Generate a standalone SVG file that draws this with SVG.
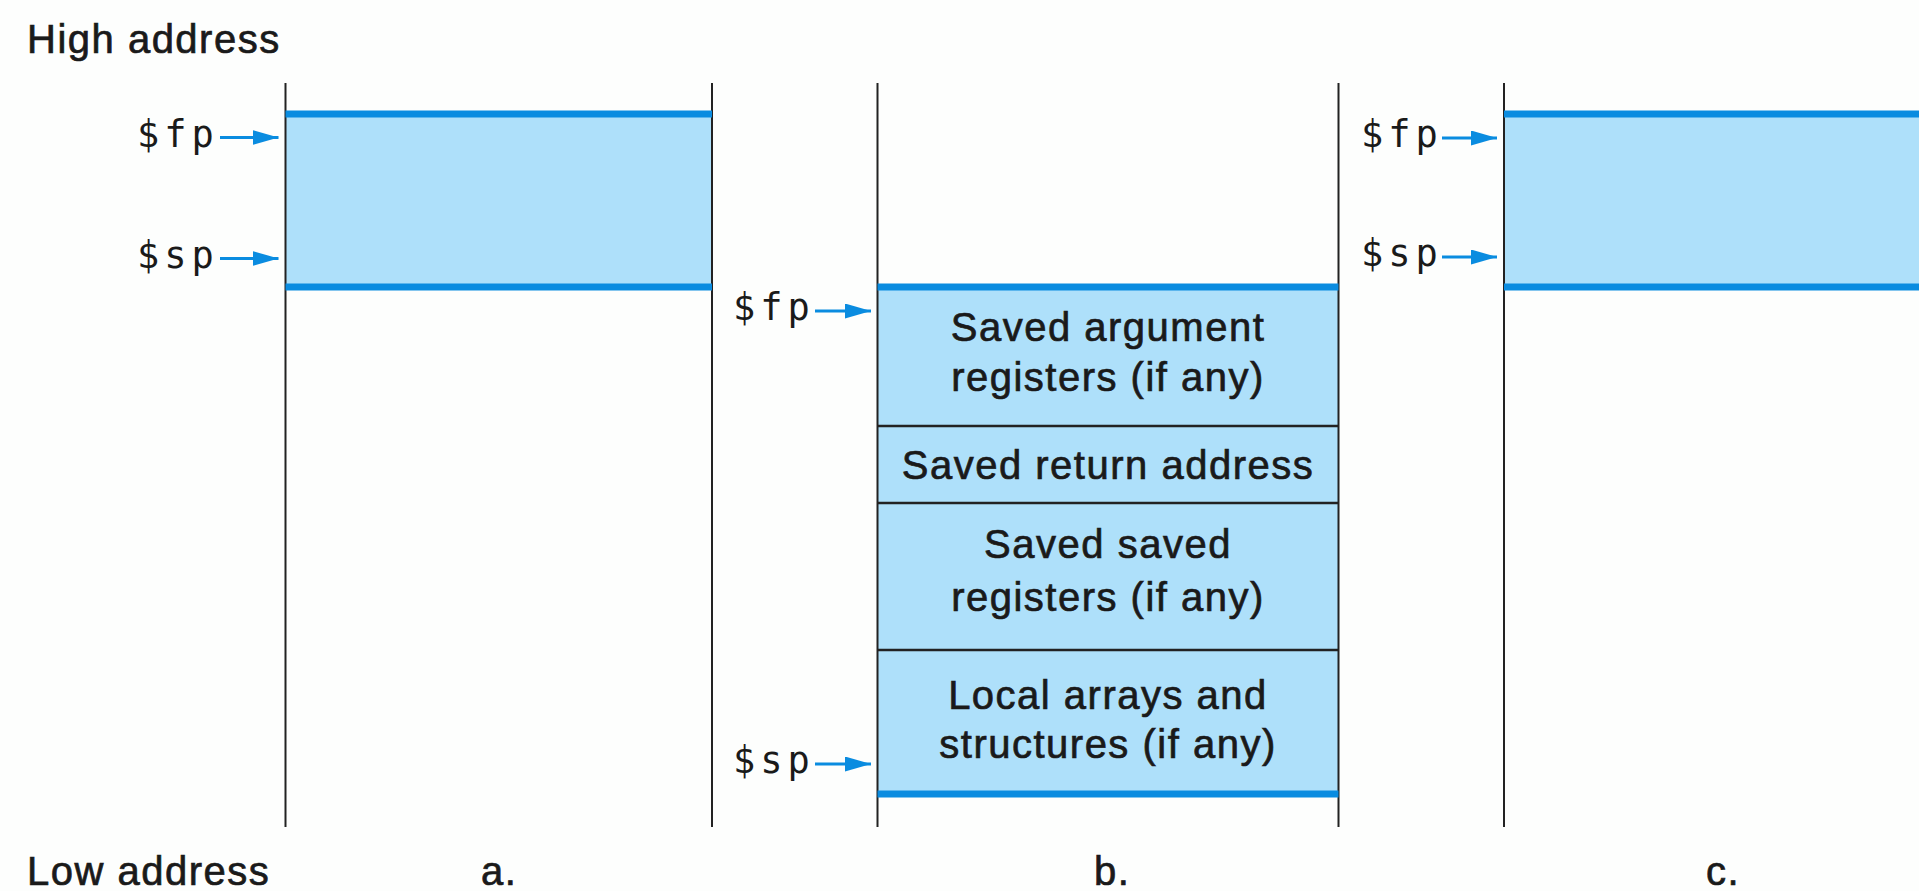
<svg xmlns="http://www.w3.org/2000/svg" width="1919" height="891" viewBox="0 0 1919 891">
<defs>
<style>
.bg{fill:#fdfefd}
.fill{fill:#aee0fa;stroke:none}
.blue{stroke:#0a8ce0;stroke-width:7;fill:none}
.vline{stroke:#222;stroke-width:2;fill:none}
.div{stroke:#222;stroke-width:2.5;fill:none}
.lbl{font-family:"Liberation Sans",Arial,sans-serif;font-size:40px;letter-spacing:1.5px;fill:#1a1a1a;stroke:#1a1a1a;stroke-width:0.7px}
.cell{font-family:"Liberation Sans",Arial,sans-serif;font-size:40px;letter-spacing:1.5px;fill:#1a1a1a;stroke:#1a1a1a;stroke-width:0.7px;text-anchor:middle}
.reg{font-family:"DejaVu Sans Mono",monospace;font-size:37px;letter-spacing:5px;fill:#1a1a1a}
.arr{stroke:#0a8ce0;stroke-width:3;fill:none}
</style>
<marker id="ah" viewBox="0 0 26 15" refX="26" refY="7.5" markerWidth="26" markerHeight="15" markerUnits="userSpaceOnUse" orient="auto">
<path d="M0,0 L26,7.5 L0,15 Z" fill="#0a8ce0"/>
</marker>
</defs>
<rect class="bg" x="0" y="0" width="1919" height="891"/>

<g id="frame-a">
<rect class="fill" x="285.5" y="114" width="426.5" height="173"/>
<line class="vline" x1="285.5" y1="83" x2="285.5" y2="827"/>
<line class="vline" x1="712" y1="83" x2="712" y2="827"/>
<line class="blue" x1="285.5" y1="114" x2="712" y2="114"/>
<line class="blue" x1="285.5" y1="287" x2="712" y2="287"/>
<text class="reg" x="137" y="147">$fp</text>
<text class="reg" x="137" y="268">$sp</text>
<text class="lbl" x="481" y="885">a.</text>
</g>

<g id="frame-b">
<g id="cell-args">
<rect class="fill" x="877.5" y="287" width="461" height="139"/>
<text class="cell" x="1108" y="341">Saved argument</text>
<text class="cell" x="1108" y="391">registers (if any)</text>
</g>
<g id="cell-ra">
<rect class="fill" x="877.5" y="426" width="461" height="77"/>
<text class="cell" x="1108" y="479">Saved return address</text>
</g>
<g id="cell-saved">
<rect class="fill" x="877.5" y="503" width="461" height="147"/>
<text class="cell" x="1108" y="558">Saved saved</text>
<text class="cell" x="1108" y="611">registers (if any)</text>
</g>
<g id="cell-local">
<rect class="fill" x="877.5" y="650" width="461" height="144"/>
<text class="cell" x="1108" y="709">Local arrays and</text>
<text class="cell" x="1108" y="758">structures (if any)</text>
</g>
<line class="vline" x1="877.5" y1="83" x2="877.5" y2="827"/>
<line class="vline" x1="1338.5" y1="83" x2="1338.5" y2="827"/>
<line class="div" x1="877.5" y1="426" x2="1338.5" y2="426"/>
<line class="div" x1="877.5" y1="503" x2="1338.5" y2="503"/>
<line class="div" x1="877.5" y1="650" x2="1338.5" y2="650"/>
<line class="blue" x1="877.5" y1="287" x2="1338.5" y2="287"/>
<line class="blue" x1="877.5" y1="794" x2="1338.5" y2="794"/>
<text class="reg" x="733" y="320">$fp</text>
<text class="reg" x="733" y="773">$sp</text>
<text class="lbl" x="1094" y="885">b.</text>
</g>

<g id="frame-c">
<rect class="fill" x="1504" y="114" width="415" height="173"/>
<line class="vline" x1="1504" y1="83" x2="1504" y2="827"/>
<line class="blue" x1="1504" y1="114" x2="1919" y2="114"/>
<line class="blue" x1="1504" y1="287" x2="1919" y2="287"/>
<text class="reg" x="1361" y="147">$fp</text>
<text class="reg" x="1361" y="266">$sp</text>
<text class="lbl" x="1706" y="885">c.</text>
</g>

<g id="labels">
<text class="lbl" x="27" y="53">High address</text>
<text class="lbl" x="27" y="885">Low address</text>
</g>

<g id="connectors">
<line class="arr" x1="220" y1="137.5" x2="278.5" y2="137.5" marker-end="url(#ah)"/>
<line class="arr" x1="220" y1="258.5" x2="278.5" y2="258.5" marker-end="url(#ah)"/>
<line class="arr" x1="815" y1="311" x2="871" y2="311" marker-end="url(#ah)"/>
<line class="arr" x1="815" y1="764" x2="871" y2="764" marker-end="url(#ah)"/>
<line class="arr" x1="1442" y1="138" x2="1497" y2="138" marker-end="url(#ah)"/>
<line class="arr" x1="1442" y1="257" x2="1497" y2="257" marker-end="url(#ah)"/>
</g>
</svg>
